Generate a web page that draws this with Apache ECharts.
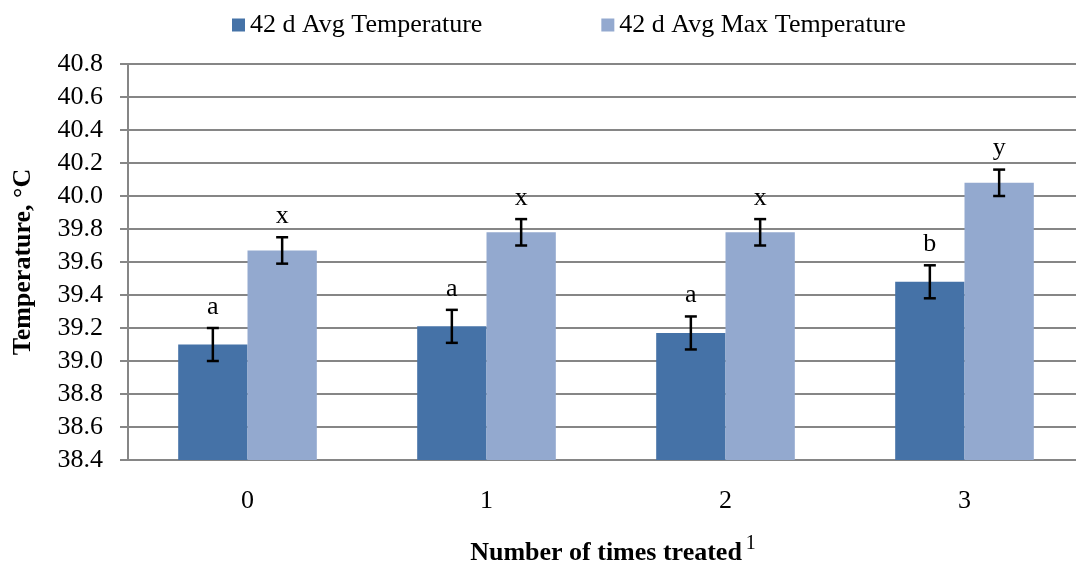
<!DOCTYPE html>
<html lang="en">
<head>
    <meta charset="utf-8"/>
    <script src="https://cdn.jsdelivr.net/npm/echarts@6/dist/echarts.min.js"></script>
    <style>
        html, body { margin: 0; padding: 0; background: #fff; overflow: hidden; }
        #main { width: 1076px; height: 565px; }
    </style>
</head>
<body>
<div id="main"></div>
<script>
    // chart data
    var categories = ['0', '1', '2', '3'];
    var avgTemp = [39.10, 39.21, 39.17, 39.48];
    var avgMaxTemp = [39.67, 39.78, 39.78, 40.08];
    var avgTempErr = [0.10, 0.10, 0.10, 0.10];
    var avgMaxTempErr = [0.08, 0.08, 0.08, 0.08];
    var avgTempLetters = ['a', 'a', 'a', 'b'];
    var avgMaxTempLetters = ['x', 'x', 'x', 'y'];
    var yTicks = ['38.4', '38.6', '38.8', '39.0', '39.2', '39.4', '39.6', '39.8', '40.0', '40.2', '40.4', '40.6', '40.8'];

    var font = '"Liberation Serif", "Times New Roman", serif';
    var gapRatio = 0.42;

    // error bars + significance letters drawn on top of the bars
    function errorBars(values, errs, letters, side) {
        return {
            type: 'custom',
            data: values.map(function (v, i) { return [i, v, errs[i]]; }),
            z: 10,
            renderItem: function (params, api) {
                var i = api.value(0), v = api.value(1), e = api.value(2);
                var band = api.size([1, 0])[0];
                var bw = band * (1 - gapRatio) / 2;
                var x = api.coord([i, v])[0] + side * bw / 2;
                var top = api.coord([i, v + e])[1];
                var bot = api.coord([i, v - e])[1];
                var cap = 6;
                var st = { stroke: '#000', lineWidth: 2.5 };
                return {
                    type: 'group',
                    children: [
                        { type: 'line', shape: { x1: x, y1: top, x2: x, y2: bot }, style: st },
                        { type: 'line', shape: { x1: x - cap, y1: top, x2: x + cap, y2: top }, style: st },
                        { type: 'line', shape: { x1: x - cap, y1: bot, x2: x + cap, y2: bot }, style: st },
                        {
                            type: 'text',
                            style: {
                                text: letters[params.dataIndex],
                                x: x, y: top - 21,
                                align: 'center', verticalAlign: 'middle',
                                font: '26px ' + font, fill: '#000'
                            }
                        }
                    ]
                };
            }
        };
    }

    var chart = echarts.init(document.getElementById('main'));
    var option = {
        animation: false,
        textStyle: { fontFamily: font },
        color: ['#4572A7', '#93A9CF'],
        legend: {
            top: 7,
            left: 227,
            itemWidth: 13,
            itemHeight: 13,
            itemGap: 119,
            icon: 'rect',
            textStyle: { fontFamily: font, fontSize: 26, color: '#000' },
            data: ['42 d Avg Temperature', '42 d Avg Max Temperature']
        },
        grid: { left: 128, top: 64, width: 956, height: 396, containLabel: false, outerBoundsMode: 'none' },
        xAxis: {
            type: 'category',
            data: categories,
            axisTick: { show: false },
            axisLine: { lineStyle: { color: '#868686', width: 2 } },
            axisLabel: { fontFamily: font, fontSize: 26, color: '#000', margin: 28 },
            name: '{b|Number of times treated}{s|1}',
            nameLocation: 'middle',
            nameGap: 80,
            nameTextStyle: {
                rich: {
                    b: { fontFamily: font, fontSize: 26, lineHeight: 26, fontWeight: 'bold', color: '#000', verticalAlign: 'bottom', padding: [0, 0, 0, 14] },
                    s: { fontFamily: font, fontSize: 20, lineHeight: 20, color: '#000', padding: [0, 0, 12, 4], verticalAlign: 'bottom' }
                }
            }
        },
        yAxis: {
            type: 'value',
            min: 38.4,
            max: 40.8,
            interval: 0.2,
            axisLine: { show: true, lineStyle: { color: '#868686', width: 2 } },
            axisTick: { show: true, length: 8, lineStyle: { color: '#868686', width: 2 } },
            splitLine: { lineStyle: { color: '#868686', width: 2 } },
            axisLabel: {
                fontFamily: font, fontSize: 26, color: '#000', margin: 25,
                formatter: function (v) {
                    var idx = Math.round((v - 38.4) / 0.2);
                    return yTicks[idx];
                }
            },
            name: 'Temperature, °C',
            nameLocation: 'middle',
            nameGap: 92,
            nameTextStyle: { fontFamily: font, fontSize: 26, fontWeight: 'bold', color: '#000' }
        },
        series: [
            {
                name: '42 d Avg Temperature',
                type: 'bar',
                data: avgTemp,
                barGap: '0%',
                barCategoryGap: '42%'
            },
            {
                name: '42 d Avg Max Temperature',
                type: 'bar',
                data: avgMaxTemp,
                barGap: '0%',
                barCategoryGap: '42%'
            },
            errorBars(avgTemp, avgTempErr, avgTempLetters, -1),
            errorBars(avgMaxTemp, avgMaxTempErr, avgMaxTempLetters, 1)
        ]
    };
    chart.setOption(option);
</script>
</body>
</html>
